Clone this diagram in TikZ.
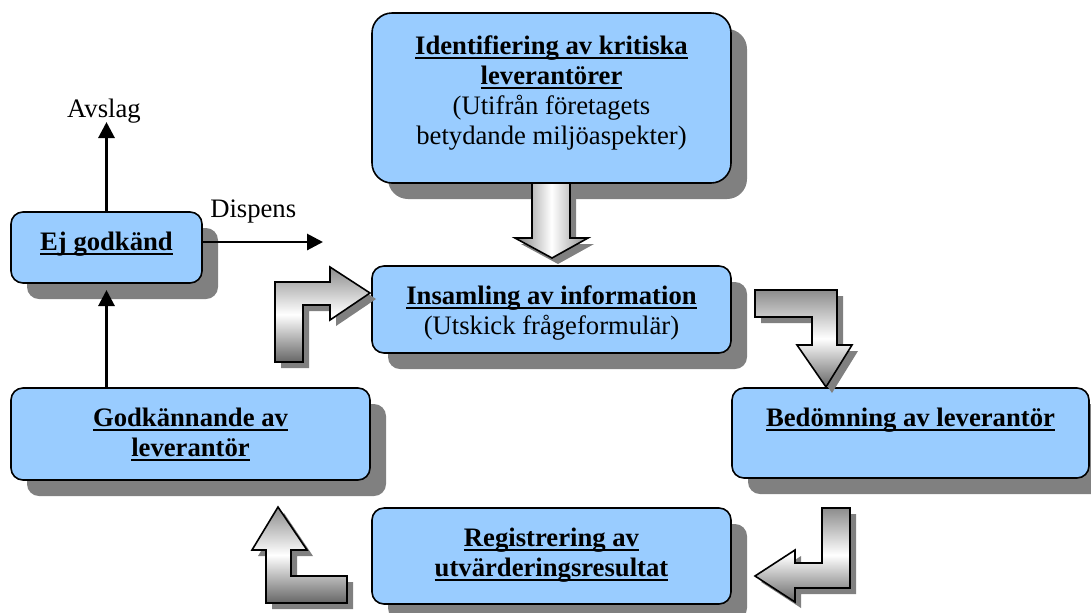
\documentclass[tikz,border=0pt]{standalone}
\usepackage{fontspec}
\setmainfont{Liberation Serif}
\usetikzlibrary{arrows.meta,calc,positioning,shadows}
\newdimen\pxdim
\pxdim=0.75pt
\definecolor{phaseblue}{HTML}{99CCFF}
\newsavebox{\headbox}
\newcommand{\boxtext}[3]{\parbox[c][#1][t]{#2}{\centering #3}}
\newcommand{\heading}[1]{\leavevmode\sbox{\headbox}{\textbf{#1}}\rlap{\rule[-3pt]{\wd\headbox}{1.3pt}}\usebox{\headbox}}
\tikzstyle{phase}=[
  draw=black,
  fill=phaseblue,
  line width=1.2pt,
  rounded corners=12\pxdim,
  inner xsep=0pt,
  inner ysep=20\pxdim,
  drop shadow={shadow xshift=16\pxdim,shadow yshift=-16\pxdim,fill=black!50,opacity=1},
]
\tikzstyle{blockarrow}=[
  draw=black,
  line width=1.2pt,
  line join=miter,
  top color=black!45,
  bottom color=black!60,
  middle color=white,
  drop shadow={shadow xshift=6\pxdim,shadow yshift=-6\pxdim,fill=black!50,opacity=1},
]
\tikzstyle{flow}=[
  draw=black,
  line width=2.2pt,
  -{Triangle[length=12pt,width=12pt]},
]
\tikzset{
  x=0.75pt,
  y=-0.75pt,
  font=\fontsize{20}{22.5}\selectfont,
}
\begin{document}
\begin{tikzpicture}
  \useasboundingbox (0,0) rectangle (1091,612);
  % phases
  \node [phase, rounded corners=20\pxdim, inner ysep=23\pxdim] (ident) at (551.5,98) {\boxtext{124\pxdim}{359\pxdim}{\heading{Identifiering av kritiska}\\ \heading{leverantörer}\\ (Utifrån företagets\\ betydande miljöaspekter)}};
  \node [phase] (insam) at (551.5,309.5) {\boxtext{47\pxdim}{359\pxdim}{\heading{Insamling av information}\\ (Utskick frågeformulär)}};
  \node [phase] (ejgod) at (106.5,247.5) {\boxtext{31\pxdim}{191\pxdim}{\heading{Ej godkänd}}};
  \node [phase] (godk) at (190.5,434) {\boxtext{52\pxdim}{359\pxdim}{\heading{Godkännande av}\\ \heading{leverantör}}};
  \node [phase] (bedom) at (910.5,433) {\boxtext{50\pxdim}{357\pxdim}{\heading{Bedömning av leverantör}}};
  \node [phase] (regist) at (551.5,556) {\boxtext{56\pxdim}{359\pxdim}{\heading{Registrering av}\\ \heading{utvärderingsresultat}}};
  % block arrows between phases
  \draw [blockarrow, left color=black!50, right color=black!45, middle color=white] (532,183) -- (570,183) -- (570,238) -- (588,238) -- (552,258) -- (515,238) -- (532,238) -- cycle;
  \draw [blockarrow] (755,290) -- (837,290) -- (837,345) -- (852,345) -- (826,387) -- (797,345) -- (812,345) -- (812,317) -- (755,317) -- cycle;
  \draw [blockarrow] (822,508) -- (850,508) -- (850,588) -- (795,588) -- (795,602) -- (755,576) -- (795,550) -- (795,563) -- (822,563) -- cycle;
  \draw [blockarrow] (278,507) -- (307,550) -- (291,550) -- (291,576) -- (347,576) -- (347,603) -- (266,603) -- (266,550) -- (252,550) -- cycle;
  \draw [blockarrow] (275,362) -- (275,282) -- (330,282) -- (330,267) -- (370,293) -- (330,320) -- (330,305) -- (303,305) -- (303,362) -- cycle;
  % decision arrows
  \coordinate (avslagtip) at (106.5,122);
  \coordinate (dispenstip) at (323,242);
  \coordinate (ejtip) at (106.5,290);
  \draw [flow] (ejgod.north) -- (avslagtip);
  \draw [flow] (ejgod.east |- dispenstip) -- (dispenstip);
  \draw [flow] (godk.north -| ejgod.south) -- (ejtip);
  \node [anchor=base, inner sep=0pt] (avslag) at (104,117) {Avslag};
  \node [anchor=base west, inner sep=0pt] (dispens) at (210,217) {Dispens};
\end{tikzpicture}
\end{document}
